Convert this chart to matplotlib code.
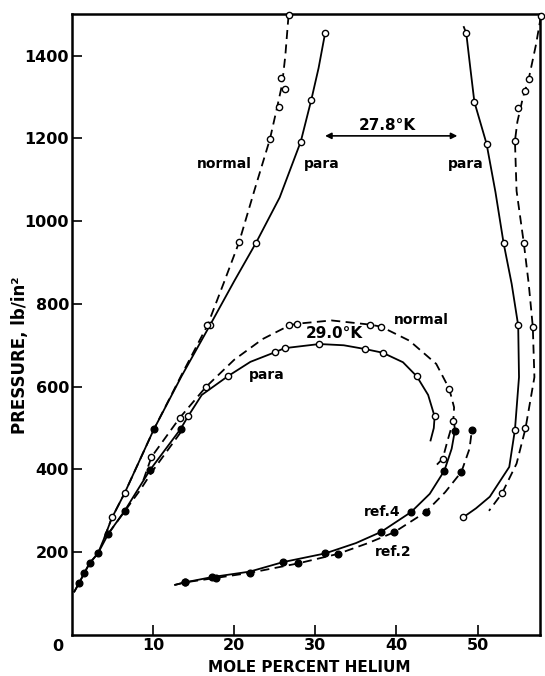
import numpy as np
import matplotlib.pyplot as plt

# --- 27.8 K, left (liquid) branches ---
para278_liq_x = [0.3, 0.9, 1.5, 2.2, 3.2, 4.0, 4.9, 6.5, 8.3, 10.1, 13.5, 17.0, 20.0, 22.7, 25.6, 28.2, 29.5, 30.4, 31.2]
para278_liq_y = [105, 126, 149, 174, 197, 235, 282, 343, 420, 497, 625, 748, 855, 948, 1057, 1192, 1293, 1370, 1454]
para278_liq_open_x = [4.9, 6.5, 17.0, 22.7, 28.2, 29.5, 31.2]
para278_liq_open_y = [284, 343, 748, 948, 1192, 1293, 1454]
para278_liq_fill_x = [10.1]
para278_liq_fill_y = [497]

norm278_liq_x = [4.0, 4.9, 6.5, 10.1, 13.5, 16.7, 18.7, 20.6, 22.5, 24.4, 25.3, 25.9, 26.3, 26.7]
norm278_liq_y = [235, 282, 343, 497, 628, 748, 850, 949, 1075, 1198, 1276, 1330, 1400, 1498]
norm278_liq_open_x = [16.7, 20.6, 24.4, 25.5, 26.2, 25.8, 26.7]
norm278_liq_open_y = [748, 949, 1198, 1276, 1320, 1346, 1498]

# --- 27.8 K, right (vapour) branches ---
para278_vap_x = [48.3, 48.6, 49.1, 49.6, 51.1, 52.2, 53.2, 54.2, 55.0, 55.1, 54.6, 53.9, 51.5, 49.8, 48.2]
para278_vap_y = [1469, 1454, 1370, 1288, 1187, 1070, 947, 848, 748, 623, 496, 406, 334, 306, 284]
para278_vap_open_x = [48.6, 49.6, 51.1, 53.2, 55.0, 54.6, 48.2]
para278_vap_open_y = [1454, 1288, 1187, 947, 748, 496, 284]

norm278_vap_x = [57.8, 57.2, 56.3, 55.6, 54.9, 54.6, 54.8, 55.7, 56.3, 56.8, 57.0, 55.9, 54.8, 53.0, 51.4]
norm278_vap_y = [1495, 1427, 1344, 1300, 1240, 1194, 1073, 946, 848, 745, 623, 499, 414, 342, 300]
norm278_vap_open_x = [57.8, 56.3, 55.8, 55.0, 54.6, 55.7, 56.8, 55.9, 53.0]
norm278_vap_open_y = [1495, 1344, 1315, 1274, 1194, 946, 745, 499, 342]

# --- 29.0 K loops ---
para290_x = [0.3, 0.9, 1.5, 2.2, 3.2, 4.5, 6.5, 9.6, 13.4, 14.3, 16.0, 19.2, 22.0, 25.0, 26.2, 30.5, 33.5, 36.1, 38.3, 40.8, 42.5, 43.9, 44.7, 44.6, 44.2]
para290_y = [105, 126, 149, 174, 197, 245, 300, 398, 498, 528, 580, 625, 660, 683, 693, 703, 700, 691, 682, 659, 625, 580, 528, 500, 470]
para290_open_x = [14.3, 19.2, 25.0, 26.2, 30.5, 36.1, 38.3, 42.5, 44.7]
para290_open_y = [528, 625, 683, 693, 703, 691, 682, 625, 528]

norm290_x = [8.8, 9.8, 13.3, 16.5, 20.0, 23.5, 26.8, 27.7, 32.0, 36.7, 38.1, 41.6, 44.9, 46.5, 47.1, 47.0, 46.3, 45.7, 44.8]
norm290_y = [374, 430, 525, 599, 665, 715, 748, 752, 760, 750, 745, 711, 655, 595, 550, 517, 470, 426, 408]
norm290_open_x = [9.8, 13.3, 16.5, 26.8, 27.7, 36.7, 38.1, 46.5, 47.0, 45.7]
norm290_open_y = [430, 525, 599, 748, 752, 750, 745, 595, 517, 426]

# --- literature data (filled points) ---
ref_liq_x = [0.9, 1.5, 2.2, 3.2, 4.5, 6.5, 9.6, 13.4]
ref_liq_y = [126, 149, 174, 197, 245, 300, 398, 498]
ref2_liq_x = [4.5, 8.4, 10.0, 13.6]
ref2_liq_y = [245, 350, 398, 495]

ref4_vap_x = [12.7, 13.9, 17.3, 21.9, 26.0, 31.2, 35.0, 38.1, 41.8, 44.1, 45.9, 46.8, 47.2, 47.1]
ref4_vap_y = [121, 127, 140, 153, 176, 197, 222, 249, 297, 341, 397, 450, 494, 515]
ref4_fill_x = [13.9, 17.3, 26.0, 31.2, 38.1, 41.8, 45.9, 47.2]
ref4_fill_y = [127, 140, 176, 197, 249, 297, 397, 494]

ref2_vap_x = [12.7, 13.9, 17.8, 21.9, 27.9, 32.8, 36.5, 39.7, 43.6, 46.0, 48.0, 49.0, 49.3]
ref2_vap_y = [121, 127, 138, 150, 173, 196, 222, 248, 297, 345, 394, 450, 496]
ref2_fill_x = [13.9, 17.8, 21.9, 27.9, 32.8, 39.7, 43.6, 48.0, 49.3]
ref2_fill_y = [127, 138, 150, 173, 196, 248, 297, 394, 496]

xticks = [10, 20, 30, 40, 50]
yticks = [200, 400, 600, 800, 1000, 1200, 1400]

fig = plt.figure(figsize=(5.45, 6.76), dpi=100)
ax = fig.add_axes([0.132, 0.0607, 0.859, 0.9183])

solid = dict(color='black', lw=1.3, ls='-')
dash = dict(color='black', lw=1.3, ls=(0, (5, 3)))
opn = dict(ls='none', marker='o', ms=4.5, mfc='white', mec='black', mew=1.0, clip_on=False, zorder=5)
fil = dict(ls='none', marker='o', ms=4.8, mfc='black', mec='black', clip_on=False, zorder=5)

ax.plot(para278_liq_x, para278_liq_y, **solid)
ax.plot(para278_liq_open_x, para278_liq_open_y, **opn)
ax.plot(para278_liq_fill_x, para278_liq_fill_y, **fil)
ax.plot(norm278_liq_x, norm278_liq_y, **dash)
ax.plot(norm278_liq_open_x, norm278_liq_open_y, **opn)

ax.plot(para278_vap_x, para278_vap_y, **solid)
ax.plot(para278_vap_open_x, para278_vap_open_y, **opn)
ax.plot(norm278_vap_x, norm278_vap_y, **dash)
ax.plot(norm278_vap_open_x, norm278_vap_open_y, **opn)

ax.plot(para290_x, para290_y, **solid)
ax.plot(para290_open_x, para290_open_y, **opn)
ax.plot(norm290_x, norm290_y, **dash)
ax.plot(norm290_open_x, norm290_open_y, **opn)

ax.plot(ref2_liq_x, ref2_liq_y, **dash)
ax.plot(ref_liq_x, ref_liq_y, **fil)
ax.plot(ref4_vap_x, ref4_vap_y, **solid)
ax.plot(ref4_fill_x, ref4_fill_y, **fil)
ax.plot(ref2_vap_x, ref2_vap_y, **dash)
ax.plot(ref2_fill_x, ref2_fill_y, **fil)

ax.set_xlim(0, 57.7)
ax.set_ylim(0, 1500)
ax.set_xticks(xticks)
ax.set_yticks(yticks)
ax.tick_params(direction='in', length=7, width=1.2, labelsize=11.5, pad=2)
ax.tick_params(axis='y', pad=2)
for lab in ax.get_xticklabels() + ax.get_yticklabels():
    lab.set_fontweight('bold')
for s in ax.spines.values():
    s.set_linewidth(1.8)
ax.text(-1.7, -0.018, '0', transform=ax.get_xaxis_transform(), ha='center', va='center',
        fontsize=11.5, fontweight='bold', clip_on=False)

lbl = dict(fontsize=10, fontweight='bold', ha='center', va='center')
ax.text(18.8, 1138, 'normal', **lbl)
ax.text(30.8, 1138, 'para', **lbl)
ax.text(48.5, 1138, 'para', **lbl)
ax.text(38.9, 1232, '27.8°K', fontsize=11, fontweight='bold', ha='center', va='center')
ax.annotate('', xy=(31.2, 1206), xytext=(47.5, 1206),
            arrowprops=dict(arrowstyle='<|-|>', color='black', lw=1.2, mutation_scale=9,
                            shrinkA=0, shrinkB=0))
ax.text(43.1, 762, 'normal', **lbl)
ax.text(32.3, 728, '29.0°K', fontsize=11, fontweight='bold', ha='center', va='center')
ax.text(24.0, 627, 'para', **lbl)
ax.text(38.2, 297, 'ref.4', **lbl)
ax.text(39.6, 200, 'ref.2', **lbl)

fig.text(20 / 545, 1 - 355 / 676, 'PRESSURE, lb/in²', rotation=90, ha='center', va='center',
         fontsize=12, fontweight='bold')
fig.text(309 / 545, 1 - 668 / 676, 'MOLE PERCENT HELIUM', ha='center', va='center',
         fontsize=11, fontweight='bold')

fig.savefig('out.png', dpi=100)
